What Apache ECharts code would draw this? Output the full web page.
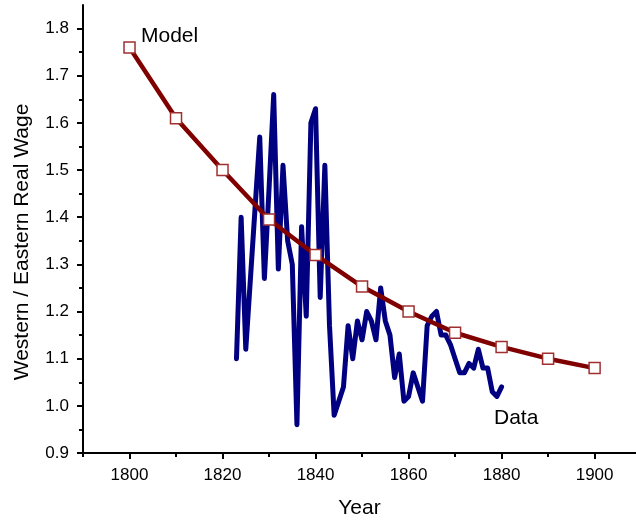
<!DOCTYPE html>
<html>
<head>
<meta charset="utf-8">
<script src="https://cdn.jsdelivr.net/npm/echarts@6/dist/echarts.min.js"></script>
<style>
html,body{margin:0;padding:0;background:#fff;}
#chart{width:636px;height:524px;}
</style>
</head>
<body>
<div id="chart"></div>
<script>
// ---- data ----
var modelYears = [1800, 1810, 1820, 1830, 1840, 1850, 1860, 1870, 1880, 1890, 1900];
var modelValues = [1.76, 1.61, 1.50, 1.395, 1.32, 1.253, 1.20, 1.155, 1.125, 1.10, 1.08];

var dataYears = [1823,1824,1825,1826,1827,1828,1829,1830,1831,1832,1833,1834,1835,1836,1837,1838,1839,1840,
                 1841,1842,1843,1844,1845,1846,1847,1848,1849,1850,1851,1852,1853,1854,1855,1856,1857,1858,1859,1860,
                 1861,1862,1863,1864,1865,1866,1867,1868,1869,1870,1871,1872,1873,1874,1875,1876,1877,1878,1879,1880];
var dataValues = [1.10,1.40,1.12,1.27,1.42,1.57,1.27,1.46,1.66,1.29,1.51,1.35,1.30,0.96,1.38,1.19,1.60,1.63,
                  1.23,1.51,1.17,0.98,1.01,1.04,1.17,1.10,1.18,1.14,1.20,1.18,1.14,1.25,1.18,1.15,1.06,1.11,1.01,1.02,
                  1.07,1.04,1.01,1.17,1.19,1.20,1.15,1.15,1.13,1.10,1.07,1.07,1.09,1.08,1.12,1.08,1.08,1.03,1.02,1.04];

var xMajorTicks = [1800, 1820, 1840, 1860, 1880, 1900];
var xMinorTicks = [1790, 1810, 1830, 1850, 1870, 1890];
var yMajorTicks = [0.9, 1.0, 1.1, 1.2, 1.3, 1.4, 1.5, 1.6, 1.7, 1.8];
var yMinorTicks = [0.95, 1.05, 1.15, 1.25, 1.35, 1.45, 1.55, 1.65, 1.75];

var xTitle = 'Year';
var yTitle = 'Western / Eastern Real Wage';
var modelName = 'Model';
var dataName = 'Data';

function zip(a, b) { return a.map(function (v, i) { return [v, b[i]]; }); }

var FONT = '"Liberation Sans", Arial, sans-serif';
var chart = echarts.init(document.getElementById('chart'), null, {renderer: 'canvas'});

var axisLineStyle = {color: '#000', width: 2};
var X_MIN = 1790, X_MAX = 1908.9;

chart.setOption({
  animation: false,
  backgroundColor: '#fff',
  grid: {left: 83, top: 5, right: 0, bottom: 69, containLabel: false},
  xAxis: [{
    type: 'value', min: X_MIN, max: X_MAX, position: 'bottom',
    name: xTitle, nameLocation: 'middle', nameGap: 45,
    nameTextStyle: {fontFamily: FONT, fontSize: 21, color: '#000'},
    axisLine: {show: true, lineStyle: axisLineStyle},
    axisTick: {show: true, inside: false, length: 6, lineStyle: {color: '#000', width: 2}, customValues: xMajorTicks},
    axisLabel: {show: true, margin: 14, fontFamily: FONT, fontSize: 17, color: '#000', customValues: xMajorTicks,
      formatter: function (v) { return String(Math.round(v)); }},
    splitLine: {show: false}
  }, {
    type: 'value', min: X_MIN, max: X_MAX, position: 'bottom', offset: 0,
    axisLine: {show: false},
    axisTick: {show: true, inside: false, length: 4, lineStyle: {color: '#000', width: 2}, customValues: xMinorTicks},
    axisLabel: {show: false},
    splitLine: {show: false}
  }],
  yAxis: [{
    type: 'value', min: 0.9, max: 1.85, position: 'left',
    axisLine: {show: true, lineStyle: axisLineStyle},
    axisTick: {show: true, inside: false, length: 6, lineStyle: {color: '#000', width: 2}, customValues: yMajorTicks},
    axisLabel: {show: true, margin: 14, fontFamily: FONT, fontSize: 17, color: '#000', customValues: yMajorTicks,
      formatter: function (v) { return v.toFixed(1); }},
    splitLine: {show: false}
  }, {
    type: 'value', min: 0.9, max: 1.85, position: 'left', offset: 0,
    axisLine: {show: false},
    axisTick: {show: true, inside: false, length: 4, lineStyle: {color: '#000', width: 2}, customValues: yMinorTicks},
    axisLabel: {show: false},
    splitLine: {show: false}
  }],
  graphic: [{
    type: 'text', rotation: Math.PI / 2, x: 22, y: 242,
    style: {text: yTitle, font: '21px ' + FONT, fill: '#000', align: 'center', verticalAlign: 'middle'}
  }, {
    type: 'text', x: 141, y: 36,
    style: {text: modelName, font: '21px ' + FONT, fill: '#000', align: 'left', verticalAlign: 'middle'}
  }, {
    type: 'text', x: 494, y: 418,
    style: {text: dataName, font: '21px ' + FONT, fill: '#000', align: 'left', verticalAlign: 'middle'}
  }],
  series: [{
    name: dataName, type: 'line', xAxisIndex: 0, yAxisIndex: 0,
    data: zip(dataYears, dataValues),
    showSymbol: false, symbol: 'none',
    lineStyle: {color: '#000080', width: 5, join: 'round', cap: 'round'},
    z: 2
  }, {
    name: modelName, type: 'line', xAxisIndex: 0, yAxisIndex: 0,
    data: zip(modelYears, modelValues),
    symbol: 'rect', symbolSize: 11, showSymbol: true,
    itemStyle: {color: '#fff', borderColor: '#a03030', borderWidth: 1.5},
    lineStyle: {color: '#800000', width: 4.5, join: 'round', cap: 'round'},
    z: 3
  }]
});
</script>
</body>
</html>
